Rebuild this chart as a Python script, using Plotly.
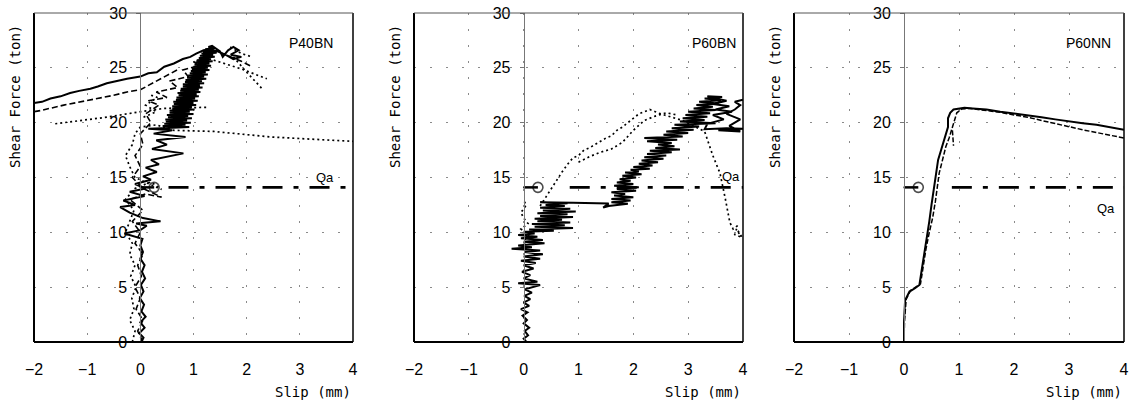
import plotly.graph_objects as go

# ---------------- data ----------------
x_ticks = [-2, -1, 0, 1, 2, 3, 4]
y_ticks = [0, 5, 10, 15, 20, 25, 30]
panel_names = ["P40BN", "P60BN", "P60NN"]
qa_value = [14.1, 14.1, 14.1]
qa_marker_x = [0.26, 0.26, 0.26]
qa_dash_start = [0.53, 0.84, 0.87]
qa_label_x = [3.48, 3.78, 3.67]
qa_label_y = [15.0, 15.1, 12.2]

# P40BN
p40bn_solid_x = [0.02, 0.06, -0.02, 0.08, 0.0, 0.1, 0.02, 0.07, -0.01, 0.06, 0.01, 0.09, 0.03, 0.08, 0.0, 0.05, 0.0, 0.04,
                 -0.3, 0.0, 0.12, -0.08, 0.38, 0.05, -0.2, -0.38, -0.1, -0.32, 0.08, -0.2, 0.1, -0.1, 0.2, 0.05, 0.31,
                 0.1, 0.35, 0.2, 0.81, 0.22, 0.5, 0.3, 0.85, 0.25, 0.6, 0.15,
                 0.40, 0.92, 0.42, 0.85, 0.45, 0.95, 0.48, 0.88, 0.47, 0.97, 0.52, 0.9, 0.5, 1.0, 0.55, 0.93, 0.55,
                 1.02, 0.6, 0.97, 0.6, 1.05, 0.63, 1.0, 0.62, 1.08, 0.67, 1.03, 0.68, 1.1, 0.72, 1.06, 0.7, 1.13,
                 0.75, 1.1, 0.76, 1.17, 0.8, 1.12, 0.8, 1.2, 0.84, 1.16, 0.85, 1.24, 0.88, 1.2, 0.9, 1.27, 0.93, 1.23,
                 0.95, 1.3, 0.97, 1.27, 1.0, 1.33, 1.02, 1.3, 1.04, 1.36, 1.07, 1.33, 1.1, 1.4, 1.12, 1.37, 1.15, 1.42,
                 1.18, 1.38, 1.22, 1.4, 1.28, 1.35,
                 1.5, 1.55, 1.65, 1.75, 1.85, 1.7, 1.9, 1.75, 1.6, 1.45, 1.3, 1.19, 1.05, 0.94, 0.8, 0.63, 0.45,
                 0.31, 0.15, 0.0, -0.25, -0.45, -0.63, -0.8, -0.94, -1.15, -1.32, -1.5, -1.69, -1.85, -2.0]
p40bn_solid_y = [0.0, 0.4, 0.8, 1.3, 1.8, 2.3, 2.8, 3.4, 4.0, 4.6, 5.2, 5.8, 6.4, 7.0, 7.6, 8.2, 8.8, 9.4,
                 9.9, 10.2, 10.6, 10.8, 11.0, 11.3, 11.8, 12.3, 12.5, 12.9, 13.3, 13.7, 14.0, 14.4, 14.8, 15.1, 15.5,
                 15.9, 16.2, 16.6, 17.2, 17.6, 18.0, 18.4, 18.7, 19.0, 19.3, 19.45,
                 19.5, 19.6, 19.7, 19.8, 19.9, 20.0, 20.1, 20.2, 20.3, 20.4, 20.5, 20.6, 20.7, 20.8, 20.9, 21.0, 21.1,
                 21.2, 21.3, 21.4, 21.5, 21.6, 21.7, 21.8, 21.9, 22.0, 22.1, 22.2, 22.3, 22.4, 22.5, 22.6, 22.7, 22.8,
                 22.9, 23.0, 23.1, 23.2, 23.3, 23.4, 23.5, 23.6, 23.7, 23.8, 23.9, 24.0, 24.1, 24.2, 24.3, 24.4, 24.5,
                 24.6, 24.7, 24.8, 24.9, 25.0, 25.1, 25.2, 25.3, 25.4, 25.5, 25.6, 25.7, 25.8, 25.9, 26.0, 26.1, 26.2,
                 26.3, 26.4, 26.5, 26.6, 26.7, 26.8, 26.9, 27.0,
                 26.5, 26.0, 26.6, 26.9, 26.6, 26.2, 26.0, 25.8, 26.2, 26.5, 26.7, 26.6, 26.3, 26.0, 25.8, 25.4, 25.1,
                 24.6, 24.5, 24.2, 24.0, 23.8, 23.6, 23.3, 23.1, 22.9, 22.7, 22.4, 22.2, 21.9, 21.8]
p40bn_dashed_x = [0.05, -0.05, 0.05, -0.08, 0.0, -0.1, 0.02, -0.05, 0.05, -0.1, 0.0, -0.15, 0.05, -0.2, 0.1, 0.4, 0.05,
                  -0.15, 0.0, -0.1, 0.05, 0.0, 0.2, 0.1, 0.35, 0.15, 0.5, 0.3, 0.7, 0.55, 0.9, 0.8, 1.1, 1.0, 1.3, 1.2,
                  1.5, 1.7, 1.9, 2.1, None,
                  0.69, 0.5, 0.25, 0.0, -0.25, -0.5, -0.81, -1.13, -1.44, -1.88, -2.0]
p40bn_dashed_y = [0.0, 1.0, 2.0, 3.0, 4.0, 5.0, 6.0, 7.0, 8.0, 9.0, 10.0, 11.0, 12.0, 13.0, 13.5, 13.2, 14.0,
                  15.0, 16.0, 17.0, 18.0, 19.0, 20.0, 20.8, 21.6, 22.0, 22.3, 22.8, 23.2, 23.8, 24.2, 24.8, 25.2, 25.6,
                  25.9, 26.3, 26.4, 26.0, 25.6, 25.1, None,
                  24.8, 24.3, 23.6, 23.0, 22.8, 22.5, 22.2, 21.9, 21.6, 21.1, 21.0]
p40bn_dotted_x = [-0.15, -0.1, -0.2, -0.12, -0.16, -0.08, -0.18, -0.1, -0.2, -0.15, -0.28, -0.2, -0.12, -0.28, -0.1,
                  0.2, 0.4, -0.1, -0.2, -0.28, -0.15, -0.1, 0.0, 0.3, 0.63, 1.38, 2.44, 3.2, 4.0, None,
                  -1.6, -1.13, -0.63, 0.0, 0.44, 1.25, None,
                  0.06, 0.3, 0.1, 0.32, 0.15, None,
                  1.38, 1.9, 2.38, None,
                  1.75, 2.0, 2.29, None,
                  1.69, 1.9, 2.1]
p40bn_dotted_y = [0.0, 1.0, 2.0, 3.0, 4.0, 5.0, 6.0, 7.0, 8.0, 9.0, 10.0, 11.0, 12.0, 13.0, 14.0,
                  14.6, 13.9, 15.0, 16.0, 17.0, 18.0, 19.0, 19.6, 19.8, 19.3, 19.2, 18.7, 18.5, 18.3, None,
                  19.9, 20.2, 20.5, 21.0, 21.3, 21.4, None,
                  20.5, 21.0, 21.6, 22.3, 22.6, None,
                  25.7, 24.9, 24.0, None,
                  26.0, 24.6, 23.1, None,
                  26.9, 26.3, 26.0]

# P60BN
p60bn_solid_x = [0.05, 0.0, 0.08, 0.02, 0.1, 0.0, 0.06, -0.02, 0.07, -0.05, 0.1, 0.0, 0.12, 0.01, 0.15, 0.02,
                 0.3, -0.1, 0.25, 0.0, 0.12, -0.03, 0.18, 0.0, 0.22, -0.05, 0.3, 0.0, 0.35, 0.02, 0.3, -0.22, 0.15,
                 -0.1, 0.38, 0.0, 0.35, -0.05, 0.25, -0.1, 0.2, 0.0,
                 0.55, 0.1, 0.9, 0.2, 0.75, 0.15, 0.85, 0.25, 0.7, 0.2, 0.9, 0.3, 0.8, 0.25, 0.95, 0.35, 0.85, 0.3,
                 0.75, 0.4, 0.8, 0.3, 0.9, 1.2, 1.55, 1.45, 1.55,
                 1.9, 1.6, 1.95, 1.6, 2.0, 1.65, 1.85, 1.6, 2.05, 1.7, 2.1, 1.65, 2.0, 1.7, 1.95, 1.75, 2.05, 1.8,
                 2.15, 1.85, 2.1,
                 1.95, 2.3, 2.0, 2.35, 2.1, 2.45, 2.15, 2.55, 2.2, 2.6, 2.25, 2.7, 2.3, 2.85, 2.4, 2.75, 2.45, 2.7,
                 2.25, 2.8, 2.2, 2.9, 2.55, 3.0, 2.6, 3.1, 2.7, 3.2, 2.75, 3.5, 2.85, 3.3, 2.9, 3.35,
                 2.95, 3.4, 3.0, 3.5, 3.1, 3.45, 3.15, 3.55, 3.2, 3.6, 3.3, 3.62, 3.35, 3.5, 3.7, 3.45, 3.75, 3.5,
                 3.8, 3.45, 3.65, 3.35, 3.3, 3.7, 4.0, 3.55, 3.95, 3.75, 3.95, 3.7, 3.85, 3.95, 3.85, 4.0]
p60bn_solid_y = [0.0, 0.3, 0.6, 1.0, 1.3, 1.7, 2.0, 2.4, 2.7, 3.0, 3.3, 3.6, 3.9, 4.2, 4.5, 4.8,
                 5.2, 5.35, 5.5, 5.8, 6.1, 6.4, 6.7, 7.0, 7.2, 7.4, 7.6, 7.8, 8.0, 8.2, 8.35, 8.5, 8.65,
                 8.8, 9.0, 9.15, 9.3, 9.45, 9.6, 9.75, 9.9, 10.05,
                 10.15, 10.25, 10.4, 10.5, 10.65, 10.75, 10.9, 11.0, 11.15, 11.25, 11.4, 11.5, 11.65, 11.75, 11.9,
                 12.0, 12.15, 12.25, 12.4, 12.5, 12.65, 12.75, 12.7, 12.68, 12.62, 12.25, 12.4,
                 12.6, 12.75, 12.9, 13.05, 13.2, 13.35, 13.5, 13.65, 13.8, 13.95, 14.1, 14.25, 14.4, 14.55, 14.7,
                 14.85, 15.0, 15.15, 15.3, 15.45, 15.55,
                 15.7, 15.8, 15.95, 16.1, 16.25, 16.4, 16.55, 16.7, 16.85, 17.0, 17.15, 17.3, 17.45, 17.55, 17.7,
                 17.85, 18.0, 18.15, 18.3, 18.45, 18.6, 18.75, 18.9, 19.05, 19.2, 19.35, 19.5, 19.65, 19.8, 19.95,
                 20.1, 20.25, 20.4, 20.55,
                 20.7, 20.85, 21.0, 21.15, 21.3, 21.45, 21.6, 21.75, 21.9, 22.05, 22.2, 22.35, 22.4, 22.2, 22.0,
                 21.7, 21.5, 21.2, 21.0, 20.7, 20.3, 19.9, 19.4, 19.5, 19.45, 19.3, 19.2, 19.7, 20.3, 20.8, 21.2,
                 21.6, 21.9, 22.1]
p60bn_dotted_x = [0.05, 0.0, 0.1, -0.05, 0.08, 0.0, -0.05, 0.05, 0.0, None,
                  0.3, 0.4, 0.5, 0.6, 0.7, 0.8, 0.9, 1.0, 1.1, 1.2, 1.3, 1.4, 1.5, 1.6, 1.7, 1.8, 1.9, 2.0, 2.1, 2.2,
                  2.3, 2.4, 2.5, 2.7, 2.9, 3.1, 3.3, 3.45, 3.58, 3.68, 3.76, 3.82, 3.9, 3.85, 3.95, 3.9, 4.0, None,
                  1.0, 1.2, 1.4, 1.6, 1.8, 2.0, 2.2, 2.4, 2.6, 2.8]
p60bn_dotted_y = [8.5, 9.2, 9.8, 10.3, 10.8, 11.3, 11.8, 12.5, 12.9, None,
                  12.4, 13.2, 14.0, 14.8, 15.5, 16.2, 16.8, 17.0, 17.5, 17.7, 18.0, 18.3, 18.6, 18.8, 19.3, 19.6,
                  20.0, 20.4, 20.8, 21.0, 21.2, 21.0, 20.8, 20.5, 20.2, 19.7, 19.2, 17.0, 15.4, 13.0, 10.9, 10.3,
                  10.6, 9.8, 9.6, 10.2, 9.4, None,
                  16.4, 16.9, 17.3, 17.6, 18.2, 19.3, 20.2, 20.6, 20.9, 20.7]

# P60NN
p60nn_solid_x = [0.0, 0.0, 0.02, 0.1, 0.2, 0.28, 0.32, 0.37, 0.42, 0.46, 0.5, 0.54, 0.58, 0.62, 0.68, 0.74, 0.8,
                 0.8, 0.84, 0.9, 1.0, 1.1, 1.25, 1.5, 1.75, 2.0, 2.25, 2.5, 2.75, 3.0, 3.25, 3.5, 3.75, 4.0]
p60nn_solid_y = [0.0, 1.8, 3.8, 4.6, 4.9, 5.2, 6.5, 8.0, 9.6, 11.0, 12.5, 14.0, 15.5, 16.6, 17.6, 18.5, 19.6,
                 20.4, 20.9, 21.2, 21.3, 21.35, 21.3, 21.2, 21.0, 20.85, 20.7, 20.5, 20.3, 20.1, 19.95, 19.8, 19.6,
                 19.35]
p60nn_dashed_x = [0.0, 0.01, 0.04, 0.12, 0.3, 0.35, 0.4, 0.46, 0.52, 0.57, 0.6, 0.64, 0.7, 0.76, 0.82, 0.88, 0.92,
                  0.96, 1.05, 1.2, 1.5, 1.75, 2.0, 2.25, 2.5, 2.75, 3.0, 3.25, 3.5, 3.75, 4.0, None, 0.88, 0.9]
p60nn_dashed_y = [0.0, 2.0, 3.9, 4.7, 5.3, 7.0, 8.5, 10.0, 11.3, 12.8, 14.0, 15.4, 16.6, 17.8, 18.6, 19.5, 20.2,
                  20.9, 21.25, 21.3, 21.1, 20.95, 20.7, 20.5, 20.2, 19.9, 19.6, 19.35, 19.1, 18.85, 18.6, None,
                  19.3, 17.9]

series = [
    [(p40bn_dotted_x, p40bn_dotted_y, "dotted"), (p40bn_dashed_x, p40bn_dashed_y, "dashed"),
     (p40bn_solid_x, p40bn_solid_y, "solid")],
    [(p60bn_dotted_x, p60bn_dotted_y, "dotted"), (p60bn_solid_x, p60bn_solid_y, "solid")],
    [(p60nn_solid_x, p60nn_solid_y, "solid"), (p60nn_dashed_x, p60nn_dashed_y, "dashed_short")],
]

# ---------------- styling / layout ----------------
W, H = 1134, 405
plot_px = [(34, 353), (414, 743), (794, 1124)]
top_px, bot_px = 13, 342
ydom = [1 - bot_px / H, 1 - top_px / H]
label_pos = [(3.67, 27.3), (3.9, 27.3), (3.8, 27.3)]
ytitle_px = [15, 395, 775]

styles = {
    "solid": dict(color="black", width=2.0),
    "dashed": dict(color="black", width=1.6, dash="6px,3px"),
    "dashed_short": dict(color="black", width=1.5, dash="5px,2px"),
    "dotted": dict(color="black", width=1.7, dash="2px,3px"),
}

tick_font = dict(family="Liberation Sans, Arial, sans-serif", size=16, color="black")
mono = "DejaVu Sans Mono, Liberation Mono, monospace"

fig = go.Figure()
shapes = []
annotations = []
layout_axes = {}

for i in range(3):
    n = i + 1
    xa = "x" if n == 1 else f"x{n}"
    ya = "y" if n == 1 else f"y{n}"
    for xs, ys, st in series[i]:
        fig.add_trace(go.Scatter(x=xs, y=ys, mode="lines", line=styles[st], xaxis=xa, yaxis=ya,
                                 showlegend=False, connectgaps=False, hoverinfo="skip"))
    # Qa line
    fig.add_trace(go.Scatter(x=[0, qa_marker_x[i]], y=[qa_value[i], qa_value[i]], mode="lines+markers",
                             line=dict(color="black", width=2.5),
                             marker=dict(symbol=["line-ew", "circle-open"], size=[1, 10], color="black",
                                         line=dict(width=1.6, color="black")),
                             xaxis=xa, yaxis=ya, showlegend=False, hoverinfo="skip"))
    fig.add_trace(go.Scatter(x=[qa_dash_start[i], 4], y=[qa_value[i], qa_value[i]], mode="lines",
                             line=dict(color="black", width=2.8, dash="20px,11px,5px,11px"),
                             xaxis=xa, yaxis=ya, showlegend=False, hoverinfo="skip"))

    x0, x1 = plot_px[i][0] / W, plot_px[i][1] / W
    layout_axes[f"xaxis{'' if n == 1 else n}"] = dict(
        domain=[x0, x1], range=[-2, 4], anchor=ya, tickvals=x_ticks,
        ticktext=[str(v).replace("-", "−") for v in x_ticks], automargin=False,
        showgrid=True, gridcolor="#8a8a8a", gridwidth=1, griddash="2px,14px", zeroline=False,
        showline=False, ticks="", tickfont=tick_font, ticklabelstandoff=16, fixedrange=True)
    layout_axes[f"yaxis{'' if n == 1 else n}"] = dict(
        domain=ydom, range=[0, 30], anchor="free", position=x0 + (x1 - x0) * (2 / 6), automargin=False,
        tickvals=y_ticks, showgrid=True, gridcolor="#8a8a8a", gridwidth=1, griddash="2px,14px",
        zeroline=False, showline=True, linecolor="#777", linewidth=1, ticks="outside", ticklen=4,
        tickcolor="#777", tickfont=tick_font, ticklabelstandoff=6, fixedrange=True)

    xd = f"{xa} domain"
    yd = f"{ya} domain"
    shapes += [
        dict(type="line", xref=xd, yref=yd, x0=0, x1=0, y0=0, y1=1, line=dict(color="black", width=2)),
        dict(type="line", xref=xd, yref=yd, x0=0, x1=1, y0=0, y1=0, line=dict(color="black", width=2)),
        dict(type="line", xref=xd, yref=yd, x0=1, x1=1, y0=0, y1=1, line=dict(color="black", width=1.5)),
        dict(type="line", xref=xd, yref=yd, x0=0, x1=1, y0=1, y1=1, line=dict(color="#555", width=1)),
    ]
    annotations += [
        dict(text=panel_names[i], x=label_pos[i][0], y=label_pos[i][1], xref=xa, yref=ya, showarrow=False,
             xanchor="right", yanchor="middle", font=dict(family="Liberation Sans, Arial", size=14, color="black")),
        dict(text="Qa", x=qa_label_x[i], y=qa_label_y[i], xref=xa, yref=ya, showarrow=False,
             xanchor="center", yanchor="middle", font=dict(family="Liberation Sans, Arial", size=13, color="black")),
        dict(text="Slip (mm)", x=1, y=1 - 392 / H, xref=xd, yref="paper", showarrow=False,
             xanchor="right", yanchor="middle", font=dict(family=mono, size=14, color="black")),
        dict(text="Shear Force (ton)", x=ytitle_px[i] / W, y=1 - 97 / H, xref="paper", yref="paper",
             showarrow=False, textangle=-90, xanchor="center", yanchor="middle",
             font=dict(family=mono, size=14, color="black")),
    ]

fig.update_layout(width=W, height=H, margin=dict(l=0, r=0, t=0, b=0), paper_bgcolor="white",
                  plot_bgcolor="white", shapes=shapes, annotations=annotations, showlegend=False, **layout_axes)

fig.write_html("out.html", config={"displayModeBar": False},
               post_script="document.body.style.margin='0';document.body.style.overflow='hidden';")
